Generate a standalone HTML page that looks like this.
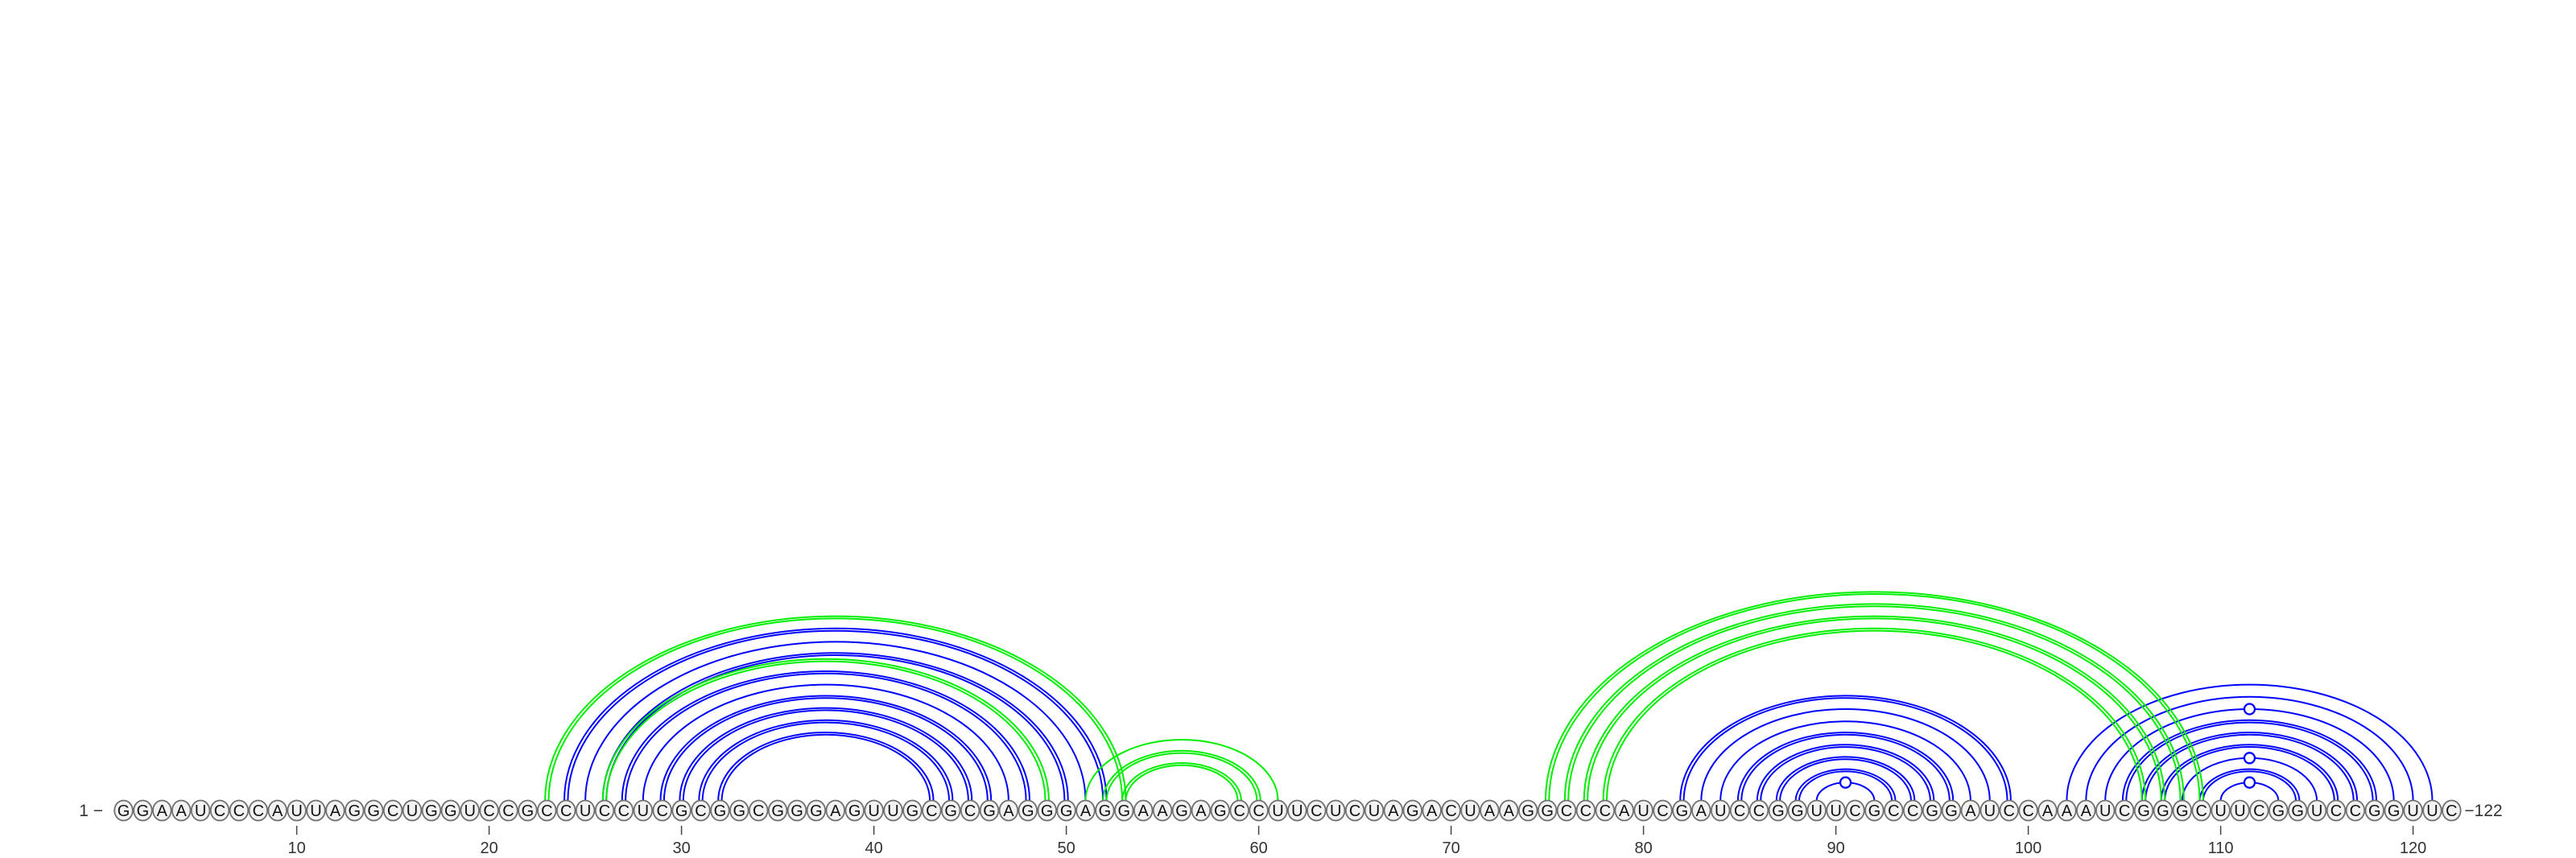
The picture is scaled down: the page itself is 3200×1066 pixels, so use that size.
<!DOCTYPE html>
<html><head><meta charset="utf-8">
<style>
html,body{margin:0;padding:0;background:#fff;}
svg{display:block;}
text{font-family:"Liberation Sans","DejaVu Sans",sans-serif;}
</style></head>
<body>
<svg id="chart" width="3200" height="1066" viewBox="0 0 3200 1066" xmlns="http://www.w3.org/2000/svg">
<g id="arcs"></g>
<g id="seq"></g>
<g id="axis"></g>
</svg>
<script>
const sequence = "GGAAUCCCAUUAGGCUGGUCCGCCUCCUCGCGGCGGGAGUUGCGCGAGGGAGGAAGAGCCUUCUCUAGACUAAGGCCCAUCGAUCCGGUUCGCCGGAUCCAAAUCGGGCUUCGGUCCGGUUC";
const tickPositions = [10,20,30,40,50,60,70,80,90,100,110,120];
// blue pairs: [i, j, double(1)/single(0), loop-marker(1/0)]
const bluePairs = [
 [24,52,1,0],[25,51,0,0],[26,50,1,0],[27,48,1,0],[28,47,0,0],[29,46,1,0],[30,45,1,0],[31,44,1,0],[32,43,1,0],
 [82,99,1,0],[83,98,0,0],[84,97,0,0],[85,96,1,0],[86,95,1,0],[87,94,1,0],[88,93,1,0],[89,92,0,1],
 [102,121,0,0],[103,120,0,0],[104,119,0,1],[105,118,1,0],[106,117,1,0],[107,116,1,0],[108,115,0,1],[109,114,1,0],[110,113,0,1]
];
const greenPairs = [
 [23,53,1,0],[26,49,1,0],[51,61,0,0],[52,60,1,0],[53,59,1,0],
 [75,109,1,0],[76,108,1,0],[77,107,1,0],[78,106,1,0]
];
const NS="http://www.w3.org/2000/svg";
const x0=153.5, pitch=23.9, cy=1007, arcBase=995, hRatio=0.318;
const xs = n => x0 + (n-1)*pitch;
function mk(tag, attrs, parent){const e=document.createElementNS(NS,tag);for(const k in attrs)e.setAttribute(k,attrs[k]);parent.appendChild(e);return e;}
const arcsG=document.getElementById('arcs');
function arcPath(a,b){const rx=(b-a)/2, ry=hRatio*(b-a);return `M${a},${arcBase} A${rx},${ry} 0 0 1 ${b},${arcBase}`;}
function drawPairs(pairs,color,name){
  pairs.forEach(p=>{
    const a=xs(p[0]), b=xs(p[1]);
    const g=mk('g',{},arcsG);
    
    
    const paths = p[2] ? [[a-2.2,b+2.2],[a+2.2,b-2.2]] : [[a,b]];
    paths.forEach(q=>{
      const e=mk('path',{d:arcPath(q[0],q[1]),fill:'none',stroke:color,'stroke-width':2},g);
      
      
    });
    if(p[3]){
      const top=arcBase-hRatio*(b-a);
      const c=mk('ellipse',{cx:(a+b)/2,cy:top,rx:6.5,ry:6.5,fill:'#fff',stroke:color,'stroke-width':2.3},g);
      
      
    }
  });
}
drawPairs(bluePairs,'#0000ff','blue-arc');
drawPairs(greenPairs,'#00ee00','green-arc');
const seqG=document.getElementById('seq');
for(let i=0;i<sequence.length;i++){
  const n=i+1,x=xs(n);
  const g=mk('g',{},seqG);
  
  
  mk('ellipse',{cx:x,cy:cy,rx:11.3,ry:12.5,fill:'#f2f2f2',stroke:'#707070','stroke-width':1.8},g);
  const t=mk('text',{x:x,y:cy+7,'text-anchor':'middle','font-size':20,fill:'#111'},g);
  t.textContent=sequence[i];
}
const startL=mk('text',{x:128,y:cy+7,'text-anchor':'end','font-size':21,fill:'#333'},seqG);
startL.textContent='1 \u2212';


const endL=mk('text',{x:xs(sequence.length)+16,y:cy+7,'text-anchor':'start','font-size':21,fill:'#333'},seqG);
endL.textContent='\u2212'+sequence.length;


const axG=document.getElementById('axis');
tickPositions.forEach(n=>{
  const x=xs(n);
  const l=mk('line',{x1:x,x2:x,y1:1026,y2:1037,stroke:'#444','stroke-width':1.5},axG);
  
  
  const t=mk('text',{x:x,y:1060,'text-anchor':'middle','font-size':20,fill:'#333'},axG);
  t.textContent=n;
  
  
});
</script>
</body></html>
